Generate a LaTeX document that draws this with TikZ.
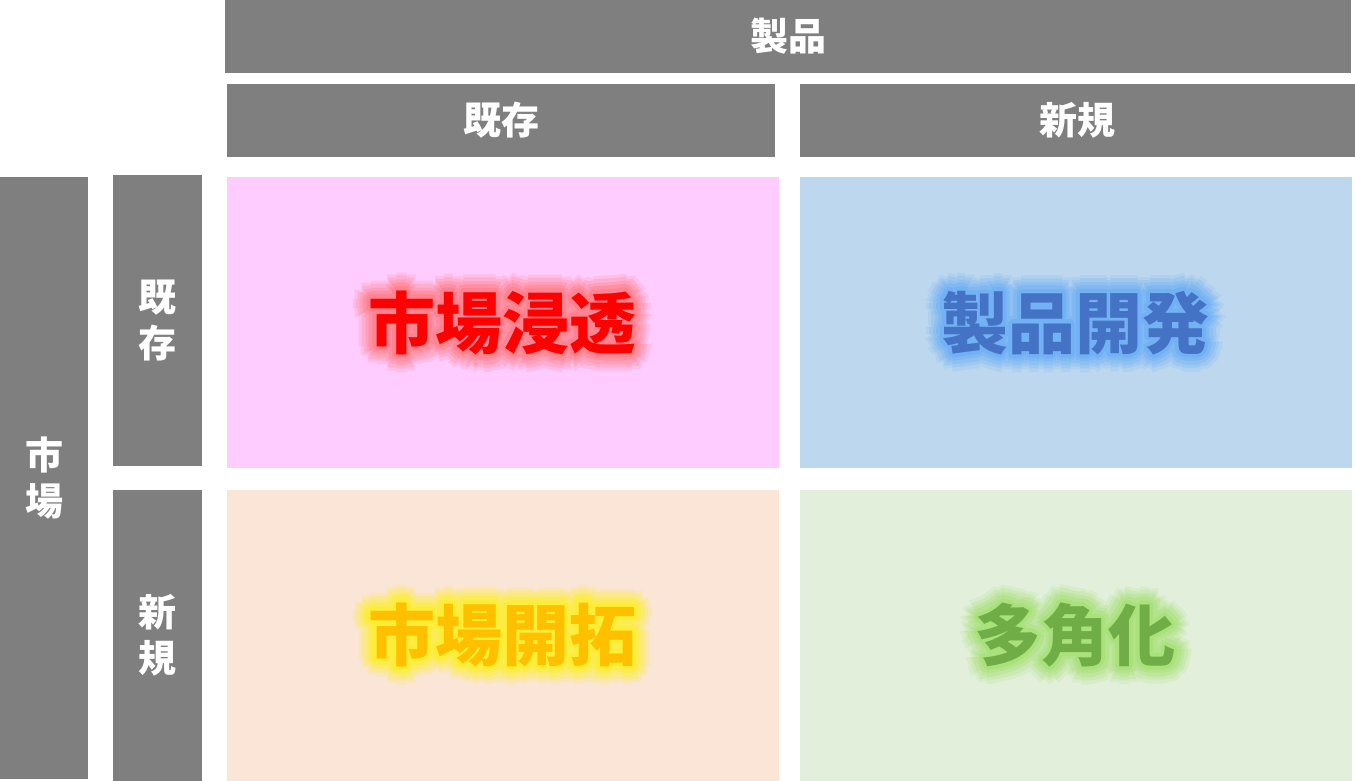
\documentclass[tikz,border=0pt]{standalone}
\usepackage{fontspec}
\newfontfamily\cjk{Noto Sans CJK JP}
\usetikzlibrary{calc}
\definecolor{hdrgray}{HTML}{7F7F7F}
\definecolor{cpink}{HTML}{FFCCFF}
\definecolor{cblue}{HTML}{BDD7EE}
\definecolor{cpeach}{HTML}{FBE5D6}
\definecolor{cgreen}{HTML}{E2EFDA}
\definecolor{tred}{HTML}{FF0000}
\definecolor{gred}{HTML}{FF6A6A}
\definecolor{tblue}{HTML}{4472C4}
\definecolor{gblue}{HTML}{5AA8F8}
\definecolor{tyellow}{HTML}{FFC000}
\definecolor{gyellow}{HTML}{FFF200}
\definecolor{tgreen}{HTML}{70AD47}
\definecolor{ggreen}{HTML}{98DE5C}
\tikzset{
  graybox/.style={fill=hdrgray, draw=none, inner sep=0pt, text=white,
    font=\cjk\bfseries\fontsize{38}{46}\selectfont, align=center},
  cellbox/.style={draw=none, inner sep=0pt},
  bigtxt/.style={inner sep=0pt, font=\cjk\bfseries\fontsize{67}{70}\selectfont}
}
\newcommand{\glowlabel}[6]{% name, x, y, text, textcolor, glowcolor
  \foreach \rr/\op in {18/0.14,14.5/0.18,11/0.22,7.5/0.28,4/0.36}{%
    \begin{scope}[transparency group, opacity=\op]
      \foreach \aa in {0,30,...,330}{%
        \node[bigtxt, text=#6] (#1-g\rr-\aa) at ($(#2,#3)+(\aa:\rr)$) {#4};
      }
    \end{scope}
  }
  \node[bigtxt, text=#5] (#1) at (#2,#3) {#4};
}
\begin{document}
\begin{tikzpicture}[x=1pt,y=-1pt]
\useasboundingbox (0,0) rectangle (1355,781);
\fill[white] (0,0) rectangle (1355,781);
% top header
\node[graybox, minimum width=1126pt, minimum height=73pt] (prod) at (788,36.5) {製品};
\node[graybox, minimum width=548pt, minimum height=73pt] (pexist) at (501,120.5) {既存};
\node[graybox, minimum width=555pt, minimum height=73pt] (pnew) at (1077.5,120.5) {新規};
% left header
\node[graybox, minimum width=88pt, minimum height=602pt] (mkt) at (44,478) {市\\場};
\node[graybox, minimum width=89pt, minimum height=291pt] (mexist) at (157.5,320.5) {既\\存};
\node[graybox, minimum width=89pt, minimum height=291pt] (mnew) at (157.5,635.5) {新\\規};
% cells
\node[cellbox, fill=cpink, minimum width=552pt, minimum height=291pt] (c11) at (503,322.5) {};
\node[cellbox, fill=cblue, minimum width=552pt, minimum height=291pt] (c12) at (1076,322.5) {};
\node[cellbox, fill=cpeach, minimum width=552pt, minimum height=291pt] (c21) at (503,635.5) {};
\node[cellbox, fill=cgreen, minimum width=552pt, minimum height=291pt] (c22) at (1076,635.5) {};
% labels
\glowlabel{l11}{502}{323}{市場浸透}{tred}{gred}
\glowlabel{l12}{1075}{323}{製品開発}{tblue}{gblue}
\glowlabel{l21}{502}{635}{市場開拓}{tyellow}{gyellow}
\glowlabel{l22}{1075}{635}{多角化}{tgreen}{ggreen}
\end{tikzpicture}
\end{document}
